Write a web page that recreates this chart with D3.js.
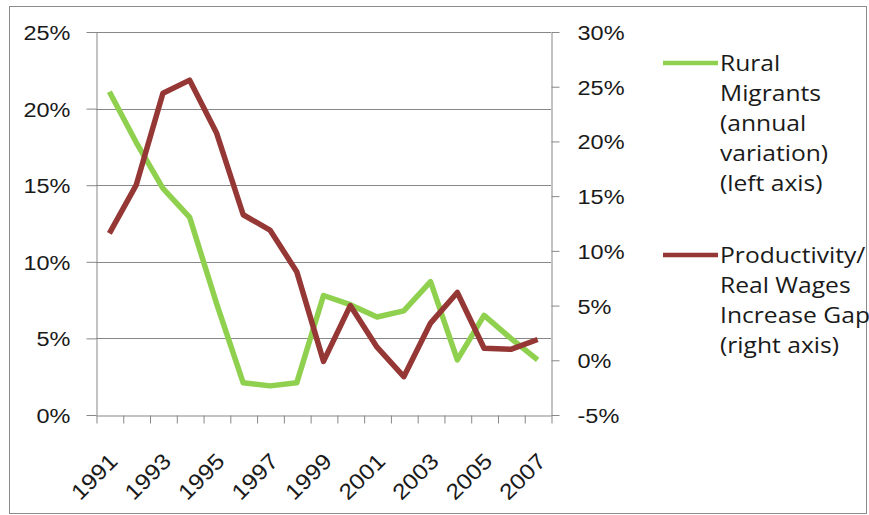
<!DOCTYPE html>
<html>
<head>
<meta charset="utf-8">
<script src="https://cdn.jsdelivr.net/npm/d3@7"></script>
<style>
  html, body { margin: 0; padding: 0; background: #fff; }
  svg { display: block; font-family: "Open Sans", sans-serif; }
</style>
</head>
<body>
<svg id="chart" width="869" height="515"></svg>
<script>
"use strict";

// ─── Data ────────────────────────────────────────────────────────────────────
const years = d3.range(1991, 2008);
const migrants = [21.1, 17.8, 14.8, 12.9, 7.3, 2.1, 1.9, 2.1, 7.8, 7.2, 6.4, 6.8, 8.7, 3.6, 6.5, 5.0, 3.6]; // left axis, %
const gap = [11.6, 16.0, 24.4, 25.6, 20.8, 13.3, 11.9, 8.1, -0.1, 5.0, 1.2, -1.5, 3.4, 6.2, 1.1, 1.0, 1.9];     // right axis, %
const leftTicks = [0, 5, 10, 15, 20, 25];
const rightTicks = [-5, 0, 5, 10, 15, 20, 25, 30];
const labelYears = years.filter((y, i) => i % 2 === 0);
const legendItems = [
  { lines: ["Rural", "Migrants", "(annual", "variation)", "(left axis)"], color: "#8fd14f" },
  { lines: ["Productivity/", "Real Wages", "Increase Gap", "(right axis)"], color: "#953735" },
];

// ─── Layout ──────────────────────────────────────────────────────────────────
const svg = d3.select("#chart");
const plot = { left: 96, right: 551, top: 32, bottom: 415 };
const SX = 1.12;            // the original text is a bit wider than Open Sans
const axisGrey = "#878787";

svg.append("rect")
  .attr("x", 9.5).attr("y", 6.5).attr("width", 857).attr("height", 507)
  .attr("fill", "none").attr("stroke", "#8c8c8c");

const x = d3.scaleBand().domain(years).range([plot.left, plot.right]).padding(0);
const xEdge = d3.scaleLinear().domain([0, years.length]).range([plot.left, plot.right]);
const yL = d3.scaleLinear().domain([0, 25]).range([plot.bottom, plot.top]);
const yR = d3.scaleLinear().domain([-5, 30]).range([plot.bottom, plot.top]);
const cx = d => x(d) + x.bandwidth() / 2;

// gridlines
svg.append("g").selectAll("line")
  .data(leftTicks.filter(t => t > 0))
  .join("line")
  .attr("x1", plot.left).attr("x2", plot.right)
  .attr("y1", d => Math.round(yL(d)) + 0.5).attr("y2", d => Math.round(yL(d)) + 0.5)
  .attr("stroke", axisGrey);

function styleAxis(g) {
  g.selectAll("path, line").attr("stroke", axisGrey);
  g.selectAll("text").attr("fill", "#1a1a1a").style("font-size", "21px");
}

// left axis
const gl = svg.append("g").attr("transform", `translate(${plot.left + 0.5},0)`)
  .call(d3.axisLeft(yL).tickValues(leftTicks).tickSize(10).tickSizeOuter(0)
    .tickFormat(d => d + "%"))
  .call(styleAxis);
gl.selectAll("text").attr("x", -26 / SX).attr("transform", `scale(${SX},1)`).attr("dy", "0.36em");

// right axis
const gr = svg.append("g").attr("transform", `translate(${plot.right + 0.5},0)`)
  .call(d3.axisRight(yR).tickValues(rightTicks).tickSize(8).tickSizeOuter(0)
    .tickFormat(d => d + "%"))
  .call(styleAxis);
gr.selectAll("text").attr("x", 26 / SX).attr("transform", `scale(${SX},1)`).attr("dy", "0.36em");

// bottom axis: tick marks on the category edges
svg.append("g").attr("transform", `translate(0,${plot.bottom + 0.5})`)
  .call(d3.axisBottom(xEdge).tickValues(d3.range(years.length + 1)).tickSize(8)
    .tickSizeOuter(0).tickFormat(""))
  .call(styleAxis)
  .selectAll(".tick line").attr("transform", "translate(0.5,0)");

// bottom labels, rotated
const gb = svg.append("g").attr("transform", `translate(0,${plot.bottom})`)
  .call(d3.axisBottom(x).tickValues(labelYears).tickSize(0).tickFormat(d3.format("d")))
  .call(styleAxis);
gb.select(".domain").remove();
gb.selectAll("text")
  .style("font-size", "22px")
  .attr("x", 0).attr("y", 0).attr("dy", "0.36em")
  .attr("text-anchor", "end")
  .attr("transform", `translate(4,42) rotate(-45) scale(${SX},1)`);

// lines
const lineL = d3.line().x((d, i) => cx(years[i])).y(d => yL(d));
const lineR = d3.line().x((d, i) => cx(years[i])).y(d => yR(d));

svg.append("path").datum(migrants)
  .attr("d", lineL).attr("fill", "none")
  .attr("stroke", legendItems[0].color).attr("stroke-width", 5.5)
  .attr("stroke-linejoin", "round");

svg.append("path").datum(gap)
  .attr("d", lineR).attr("fill", "none")
  .attr("stroke", legendItems[1].color).attr("stroke-width", 5.5)
  .attr("stroke-linejoin", "round");

// legend
const legendTop = [63, 255];
const lg = svg.append("g");
legendItems.forEach((item, k) => {
  const g = lg.append("g").attr("transform", `translate(0,${legendTop[k]})`);
  g.append("line").attr("x1", 663).attr("x2", 718).attr("y1", 0).attr("y2", 0)
    .attr("stroke", item.color).attr("stroke-width", 4.5);
  const t = g.append("text")
    .attr("transform", `translate(720,0) scale(${SX},1)`)
    .attr("fill", "#1a1a1a").style("font-size", "22px");
  t.selectAll("tspan").data(item.lines).join("tspan")
    .attr("x", 0).attr("y", (d, i) => i * 30).attr("dy", "0.36em")
    .text(d => d);
});
</script>
</body>
</html>
